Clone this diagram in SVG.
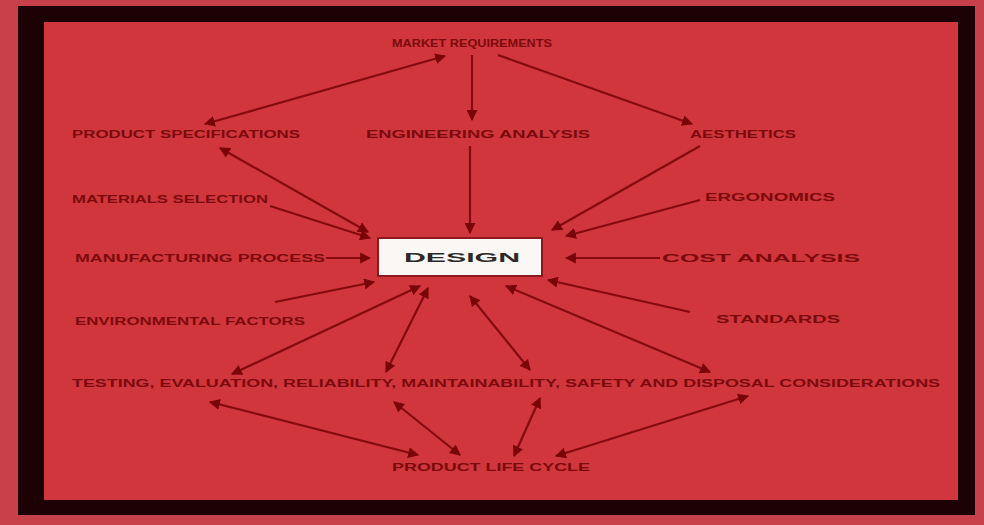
<svg xmlns="http://www.w3.org/2000/svg" width="984" height="525" viewBox="0 0 984 525">
<defs>
<style>
.lbl{font-family:"Liberation Sans",Arial,sans-serif;font-weight:bold;font-size:10px;fill:#7c0a0c;}
.cn line{stroke:#850a0e;stroke-width:2.2;fill:none;}
.ctr{font-family:"Liberation Sans",Arial,sans-serif;font-weight:bold;font-size:13px;fill:#2a2a2a;}
</style>
<marker id="ah" viewBox="0 0 10 10" refX="9" refY="5" markerWidth="5" markerHeight="5" orient="auto-start-reverse" markerUnits="strokeWidth">
<path d="M0,0 L10,5 L0,10 z" fill="#7a0508"/>
</marker>
</defs>
<rect x="0" y="0" width="984" height="525" fill="#c8404a"/>
<rect x="18" y="6" width="957" height="509" fill="#1c0204"/>
<rect x="44" y="22" width="914" height="478" fill="#d0363c"/>

<g class="cn">
<line x1="445" y1="56" x2="205" y2="124" marker-start="url(#ah)" marker-end="url(#ah)"/>
<line x1="472" y1="55" x2="472" y2="120" marker-end="url(#ah)"/>
<line x1="498" y1="55" x2="692" y2="124" marker-end="url(#ah)"/>
<line x1="470" y1="146" x2="470" y2="233" marker-end="url(#ah)"/>
<line x1="220" y1="148" x2="368" y2="232" marker-start="url(#ah)" marker-end="url(#ah)"/>
<line x1="700" y1="146" x2="552" y2="230" marker-end="url(#ah)"/>
<line x1="270" y1="206" x2="370" y2="238" marker-end="url(#ah)"/>
<line x1="700" y1="200" x2="566" y2="236" marker-end="url(#ah)"/>
<line x1="326" y1="258" x2="370" y2="258" marker-end="url(#ah)"/>
<line x1="660" y1="258" x2="566" y2="258" marker-end="url(#ah)"/>
<line x1="275" y1="302" x2="374" y2="282" marker-end="url(#ah)"/>
<line x1="690" y1="312" x2="548" y2="280" marker-end="url(#ah)"/>
<line x1="420" y1="286" x2="232" y2="374" marker-start="url(#ah)" marker-end="url(#ah)"/>
<line x1="428" y1="288" x2="386" y2="372" marker-start="url(#ah)" marker-end="url(#ah)"/>
<line x1="470" y1="296" x2="530" y2="370" marker-start="url(#ah)" marker-end="url(#ah)"/>
<line x1="506" y1="286" x2="710" y2="372" marker-start="url(#ah)" marker-end="url(#ah)"/>
<line x1="210" y1="402" x2="418" y2="455" marker-start="url(#ah)" marker-end="url(#ah)"/>
<line x1="394" y1="402" x2="460" y2="455" marker-start="url(#ah)" marker-end="url(#ah)"/>
<line x1="540" y1="398" x2="514" y2="456" marker-start="url(#ah)" marker-end="url(#ah)"/>
<line x1="748" y1="396" x2="556" y2="456" marker-start="url(#ah)" marker-end="url(#ah)"/>
</g>

<g id="n-top"><text class="lbl" x="392" y="47" textLength="160" lengthAdjust="spacingAndGlyphs">MARKET REQUIREMENTS</text></g>
<g id="n-l1"><text class="lbl" x="72" y="138" textLength="228" lengthAdjust="spacingAndGlyphs">PRODUCT SPECIFICATIONS</text></g>
<g id="n-m1"><text class="lbl" x="366" y="138" textLength="224" lengthAdjust="spacingAndGlyphs">ENGINEERING ANALYSIS</text></g>
<g id="n-r1"><text class="lbl" x="690" y="138" textLength="106" lengthAdjust="spacingAndGlyphs">AESTHETICS</text></g>
<g id="n-l2"><text class="lbl" x="72" y="203" textLength="196" lengthAdjust="spacingAndGlyphs">MATERIALS SELECTION</text></g>
<g id="n-r2"><text class="lbl" x="705" y="201" textLength="130" lengthAdjust="spacingAndGlyphs">ERGONOMICS</text></g>
<g id="n-l3"><text class="lbl" x="75" y="262" textLength="250" lengthAdjust="spacingAndGlyphs">MANUFACTURING PROCESS</text></g>
<g id="n-r3"><text class="lbl" x="662" y="262" textLength="198" lengthAdjust="spacingAndGlyphs">COST ANALYSIS</text></g>
<g id="n-l4"><text class="lbl" x="75" y="325" textLength="230" lengthAdjust="spacingAndGlyphs">ENVIRONMENTAL FACTORS</text></g>
<g id="n-r4"><text class="lbl" x="716" y="323" textLength="124" lengthAdjust="spacingAndGlyphs">STANDARDS</text></g>
<g id="n-long"><text class="lbl" x="72" y="387" textLength="868" lengthAdjust="spacingAndGlyphs">TESTING, EVALUATION, RELIABILITY, MAINTAINABILITY, SAFETY AND DISPOSAL CONSIDERATIONS</text></g>
<g id="n-bot"><text class="lbl" x="392" y="471" textLength="198" lengthAdjust="spacingAndGlyphs">PRODUCT LIFE CYCLE</text></g>
<g id="n-design">
<rect x="378" y="238" width="164" height="38" fill="#fbf7f5" stroke="#8a1a1e" stroke-width="2"/>
<text class="ctr" x="404" y="262" textLength="116" lengthAdjust="spacingAndGlyphs">DESIGN</text>
</g>
</svg>
